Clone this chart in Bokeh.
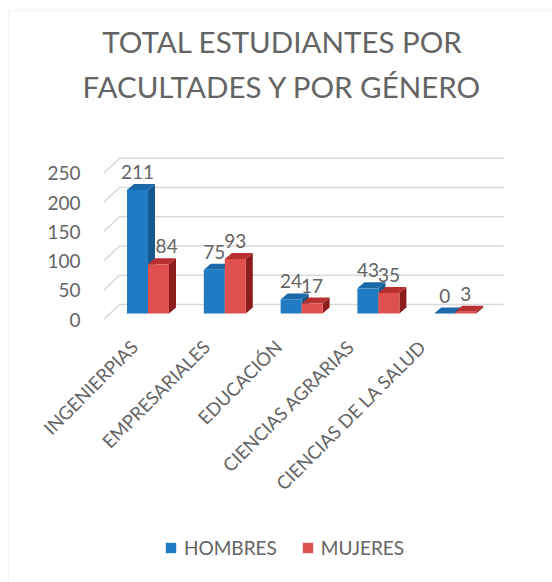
import math
from bokeh.plotting import figure
from bokeh.models import (Range1d, LinearAxis, FixedTicker, Label, Legend,
                          LegendItem, BoxAnnotation)
from bokeh.core.properties import value
from bokeh.embed import file_html
from bokeh.resources import INLINE

# ---------------- data ----------------
categories = ["INGENIERPIAS", "EMPRESARIALES", "EDUCACIÓN",
              "CIENCIAS AGRARIAS", "CIENCIAS DE LA SALUD"]
hombres = [211, 75, 24, 43, 0]
mujeres = [84, 93, 17, 35, 3]
series_names = ["HOMBRES", "MUJERES"]
y_ticks = [0, 50, 100, 150, 200, 250]
title_lines = ["TOTAL ESTUDIANTES POR", "FACULTADES Y POR GÉNERO"]

# ---------------- layout constants (pixels) ----------------
W, H = 552, 582
XC0, XU = 141.5, 76.8     # px of first category centre, px per category
Y0, YU = 319.0, 0.585     # px of value 0, px per value unit
LBL0, LBL_STEP = 134.0, 72.0  # category label anchors (px)

FONT = "Lato"
GRAY = "#646464"
GRID = "#d9d9d9"
BLUE = ("#1f7bc4", "#15598f", "#1b69a9")   # front, side, top
RED = ("#e0504e", "#8c1d1d", "#b8302f")
LABEL_PX = 19          # data label font size
DIGIT_W = 0.56 * LABEL_PX


def dx(px):
    return px / XU


def dy(px):
    return px / YU


def sx(px):
    return (px - XC0) / XU


def sy(py):
    return (Y0 - py) / YU


p = figure(width=W, height=H, x_range=Range1d(sx(0), sx(W)),
           y_range=Range1d(sy(H), sy(0)), output_backend="svg",
           toolbar_location=None, min_border=0, x_axis_type=None,
           y_axis_type=None)
p.outline_line_color = None
p.background_fill_color = "white"
p.border_fill_color = "white"

# chart-area border (partially visible like the reference)
p.add_layout(BoxAnnotation(left=sx(8), right=sx(W + 20), top=sy(10),
                           bottom=sy(H + 20), fill_alpha=0,
                           line_color=GRID, line_width=1.5))

# ---------------- back wall grid & side wall lines ----------------
n = len(categories)
wall_x, wall_y = dx(16), dy(15)
x_left, x_right = -0.5, n - 0.5
p.segment(x0=[x_left + wall_x] * len(y_ticks), y0=[t + wall_y for t in y_ticks],
          x1=[x_right + wall_x] * len(y_ticks), y1=[t + wall_y for t in y_ticks],
          line_color=GRID, line_width=1.6)
p.segment(x0=[x_left] * len(y_ticks), y0=y_ticks,
          x1=[x_left + wall_x] * len(y_ticks), y1=[t + wall_y for t in y_ticks],
          line_color=GRID, line_width=1.6)

# ---------------- 3D bars ----------------
bw = dx(21)
off_x, off_y = dx(6), dy(6)
dep_x, dep_y = dx(7), dy(6)


def bars(vals, shift, colors):
    fx, fy, sxs, sys_, tx, ty = [], [], [], [], [], []
    lx, ly = [], []
    for i, v in enumerate(vals):
        L = i + off_x + shift
        R = L + bw
        b = off_y
        t = b + v
        fx.append([L, R, R, L]); fy.append([b, b, t, t])
        sxs.append([R, R + dep_x, R + dep_x, R]); sys_.append([b, b + dep_y, t + dep_y, t])
        tx.append([L, R, R + dep_x, L + dep_x]); ty.append([t, t, t + dep_y, t + dep_y])
        lx.append((L + R) / 2)
        ly.append(t + dep_y + dy(12))
    p.patches(sxs, sys_, fill_color=colors[1], line_color=None)
    p.patches(tx, ty, fill_color=colors[2], line_color=None)
    front = p.patches(fx, fy, fill_color=colors[0], line_color=None)
    return front, lx, ly


blue_front, bx, by = bars(hombres, -bw, BLUE)
red_front, rx, ry = bars(mujeres, 0, RED)

# push a right-hand label clear of a taller left-hand bar (as the reference does)
for i in range(n):
    half = dx(len(str(mujeres[i])) * DIGIT_W / 2 + 1)
    blue_edge = i + off_x + dep_x
    if off_y + hombres[i] + dep_y > ry[i] and rx[i] - half < blue_edge:
        rx[i] = blue_edge + half

p.text(x=bx + rx, y=by + ry, text=[str(v) for v in hombres + mujeres],
       text_font=value(FONT), text_font_size=f"{LABEL_PX}px", text_color=GRAY,
       text_align="center", text_baseline="alphabetic")

# ---------------- axes ----------------
yaxis = LinearAxis(fixed_location=sx(XC0 - 0.5 * XU),
                   ticker=FixedTicker(ticks=y_ticks),
                   axis_line_color=None, major_tick_line_color=None,
                   minor_tick_line_color=None, major_tick_out=0,
                   major_label_standoff=23,
                   major_label_text_font=FONT,
                   major_label_text_font_size="19px",
                   major_label_text_color=GRAY)
p.add_layout(yaxis, "left")

p.extra_x_ranges["lbl"] = Range1d(-LBL0 / LBL_STEP, (W - LBL0) / LBL_STEP)
xaxis = LinearAxis(x_range_name="lbl", fixed_location=0,
                   ticker=FixedTicker(ticks=list(range(n))),
                   major_label_overrides={i: c for i, c in enumerate(categories)},
                   major_label_orientation=math.pi / 4,
                   axis_line_color=None, major_tick_line_color=None,
                   minor_tick_line_color=None, major_tick_out=0,
                   major_label_standoff=24,
                   major_label_text_font=FONT,
                   major_label_text_font_size="18.5px",
                   major_label_text_color=GRAY)
p.add_layout(xaxis, "below")

# ---------------- title ----------------
for k, line in enumerate(title_lines):
    p.add_layout(Label(x=sx(282), y=sy(41 + 45 * k), text=line,
                       text_align="center", text_baseline="alphabetic",
                       text_font=FONT, text_font_size="29.5px",
                       text_color=GRAY))

# ---------------- legend ----------------
legend = Legend(items=[LegendItem(label=series_names[0], renderers=[blue_front]),
                       LegendItem(label=series_names[1], renderers=[red_front])],
                orientation="horizontal", location=(164, 23),
                glyph_width=13, glyph_height=13, label_height=13,
                label_standoff=7, spacing=24, padding=0, margin=0,
                border_line_color=None, background_fill_alpha=0,
                label_text_font=FONT, label_text_font_size="19px",
                label_text_color=GRAY)
p.add_layout(legend)

open("out.html", "w").write(file_html(p, INLINE))
